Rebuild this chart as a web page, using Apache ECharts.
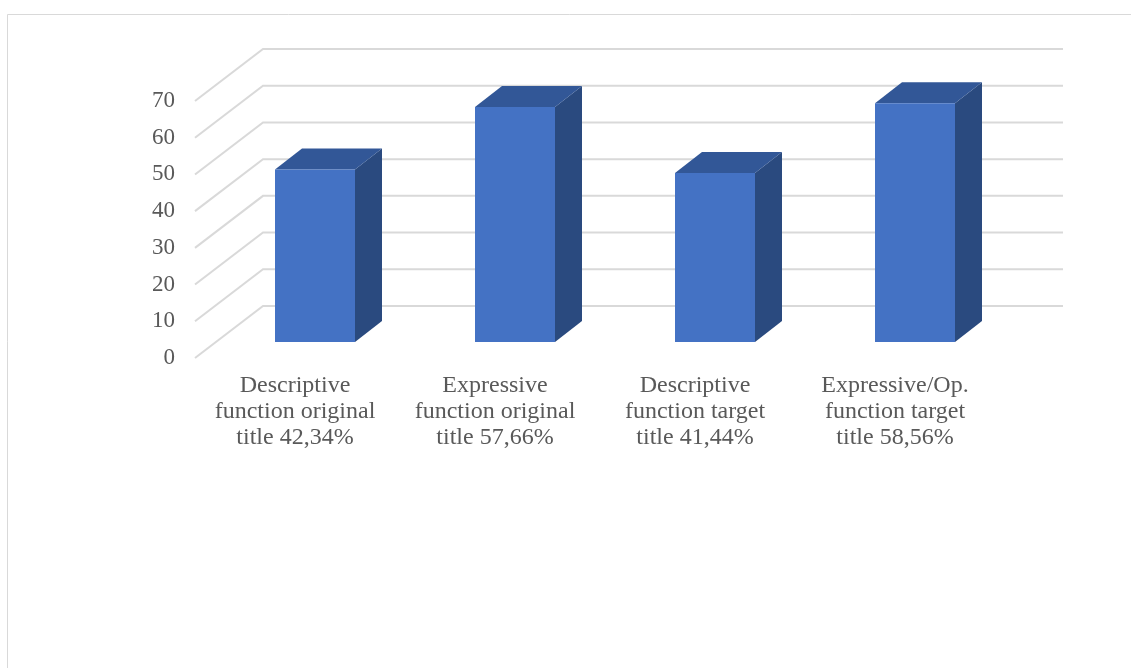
<!DOCTYPE html>
<html>
<head>
<meta charset="utf-8">
<script src="https://cdn.jsdelivr.net/npm/echarts@6/dist/echarts.min.js"></script>
<style>html,body{margin:0;padding:0;background:#fff;}#c{width:1131px;height:668px;}</style>
</head>
<body>
<div id="c"></div>
<script>
const categories = [
  'Descriptive\nfunction original\ntitle 42,34%',
  'Expressive\nfunction original\ntitle 57,66%',
  'Descriptive\nfunction target\ntitle 41,44%',
  'Expressive/Op.\nfunction target\ntitle 58,56%'
];
const values = [47, 64, 46, 65];
const yTicks = [0, 10, 20, 30, 40, 50, 60, 70];

// perspective offsets (pixels)
const FLOOR_DX = 68, FLOOR_DY = 52;
const BAR_START = [20, 16];   // front face offset from front plane
const BAR_DEPTH = [27, 21];   // depth of the bar

const chart = echarts.init(document.getElementById('c'));
const font = '"Liberation Serif", "Times New Roman", serif';

chart.setOption({
  animation: false,
  graphic: [{
    type: 'rect', silent: true, z: -10,
    shape: { x: 7.5, y: 14.5, width: 1200, height: 800 },
    style: { fill: '#fff', stroke: '#d9d9d9', lineWidth: 1 }
  }],
  grid: { left: 195, right: 136, top: 101, bottom: 310 },
  xAxis: {
    type: 'category', data: categories,
    axisLine: { show: false }, axisTick: { show: false },
    axisLabel: { margin: 15, fontFamily: font, fontSize: 24, lineHeight: 26, color: '#595959', interval: 0 }
  },
  yAxis: {
    type: 'value', min: 0, max: 70, interval: 10,
    axisLine: { show: false }, axisTick: { show: false }, splitLine: { show: false },
    axisLabel: { margin: 20, fontFamily: font, fontSize: 23, color: '#595959' }
  },
  series: [
    {
      type: 'custom', z: 1,
      data: yTicks.map(v => [0, v]),
      renderItem: function (params, api) {
        const cs = params.coordSys;
        const y = api.coord([0, api.value(1)])[1];
        const x0 = cs.x;
        const x1 = cs.x + cs.width;
        return {
          type: 'polyline',
          shape: { points: [[x0, y], [x0 + FLOOR_DX, y - FLOOR_DY], [x1 + FLOOR_DX, y - FLOOR_DY]] },
          style: { stroke: '#d9d9d9', lineWidth: 2, fill: null }
        };
      }
    },
    {
      type: 'custom', z: 2,
      data: values.map((v, i) => [i, v]),
      renderItem: function (params, api) {
        const i = api.value(0), v = api.value(1);
        const base = api.coord([i, 0]);
        const top = api.coord([i, v]);
        const w = api.size([1, 0])[0] * 0.4;
        const cx = base[0] + BAR_START[0];
        const yb = base[1] - BAR_START[1];
        const yt = top[1] - BAR_START[1];
        const xl = cx - w / 2, xr = cx + w / 2;
        const dx = BAR_DEPTH[0], dy = BAR_DEPTH[1];
        return {
          type: 'group',
          children: [
            { type: 'polygon', shape: { points: [[xr, yt], [xr + dx, yt - dy], [xr + dx, yb - dy], [xr, yb]] },
              style: { fill: '#2a4a7f' } },
            { type: 'polygon', shape: { points: [[xl, yt], [xr, yt], [xr + dx, yt - dy], [xl + dx, yt - dy]] },
              style: { fill: '#325797' } },
            { type: 'rect', shape: { x: xl, y: yt, width: w, height: yb - yt },
              style: { fill: '#4472c4' } }
          ]
        };
      }
    }
  ]
});
</script>
</body>
</html>
